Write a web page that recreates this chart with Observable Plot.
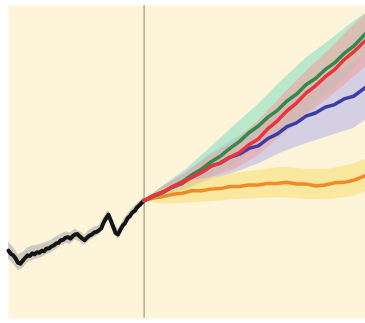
<!DOCTYPE html>
<html>
<head>
<meta charset="utf-8">
<script src="https://cdn.jsdelivr.net/npm/d3@7"></script>
<script src="https://cdn.jsdelivr.net/npm/@observablehq/plot@0.6"></script>
<style>
  html, body { margin: 0; padding: 0; background: #ffffff; }
  #chart svg { display: block; filter: blur(0.5px); }
</style>
</head>
<body>
<div id="chart"></div>
<script>
// Historical series (annual line)
const histYears = [1950,1951,1952,1953,1954,1955,1956,1957,1958,1959,1960,1961,1962,1963,1964,1965,1966,1967,1968,1969,1970,1971,1972,1973,1974,1975,1976,1977,1978,1979,1980,1981,1982,1983,1984,1985,1986,1987,1988,1989,1990,1991,1992,1993,1994,1995,1996,1997,1998,1999,2000,2001,2002,2003,2004,2005,2006,2007];
const histValues = [-0.70,-0.76,-0.79,-0.85,-0.93,-0.95,-0.89,-0.84,-0.79,-0.80,-0.75,-0.77,-0.73,-0.74,-0.70,-0.71,-0.66,-0.66,-0.62,-0.60,-0.56,-0.55,-0.50,-0.49,-0.45,-0.44,-0.47,-0.42,-0.39,-0.38,-0.43,-0.47,-0.50,-0.45,-0.41,-0.39,-0.35,-0.34,-0.31,-0.27,-0.16,-0.08,-0.01,-0.12,-0.24,-0.36,-0.39,-0.30,-0.22,-0.17,-0.08,-0.04,0.03,0.06,0.13,0.17,0.22,0.26];
// Historical spread band (every two years)
const histBandYears = [1950,1952,1954,1956,1958,1960,1962,1964,1966,1968,1970,1972,1974,1976,1978,1980,1982,1984,1986,1988,1990,1992,1994,1996,1998,2000,2002,2004,2006,2007];
const histBandCenter = [-0.70,-0.79,-0.93,-0.89,-0.79,-0.75,-0.73,-0.70,-0.66,-0.62,-0.56,-0.50,-0.45,-0.47,-0.39,-0.43,-0.50,-0.41,-0.35,-0.31,-0.16,-0.01,-0.24,-0.39,-0.22,-0.08,0.03,0.13,0.22,0.26];
const histSpread = [0.16,0.16,0.15,0.15,0.14,0.14,0.13,0.13,0.12,0.12,0.12,0.11,0.11,0.11,0.10,0.10,0.10,0.10,0.10,0.09,0.09,0.09,0.09,0.09,0.08,0.08,0.08,0.07,0.06,0.05];

// Projection lines (every four years)
const scenarios = ["green","red","blue","orange"];
const projYears = [2007,2011,2015,2019,2023,2027,2031,2035,2039,2043,2047,2051,2055,2059,2063,2067,2071,2075,2079,2083,2087,2091,2095,2100];
const greenValues  = [0.26,0.35,0.42,0.53,0.62,0.75,0.86,1.00,1.11,1.26,1.39,1.56,1.69,1.86,1.99,2.17,2.30,2.48,2.60,2.77,2.90,3.08,3.22,3.46];
const redValues    = [0.26,0.36,0.43,0.53,0.60,0.71,0.80,0.92,0.98,1.09,1.18,1.33,1.44,1.64,1.79,1.98,2.13,2.32,2.46,2.63,2.77,2.96,3.11,3.33];
const blueValues   = [0.26,0.35,0.42,0.52,0.59,0.71,0.80,0.92,0.98,1.09,1.15,1.26,1.31,1.45,1.54,1.68,1.75,1.88,1.94,2.05,2.10,2.21,2.26,2.43];
const orangeValues = [0.26,0.31,0.34,0.38,0.40,0.45,0.45,0.48,0.49,0.53,0.53,0.56,0.56,0.59,0.59,0.61,0.58,0.58,0.54,0.56,0.60,0.61,0.65,0.74];

// Projection spread bands (decadal)
const bandYears = [2007,2015,2025,2035,2045,2055,2065,2075,2085,2095,2100];
const greenCenter  = [0.26,0.42,0.68,0.99,1.32,1.70,2.08,2.47,2.83,3.23,3.46];
const redCenter    = [0.26,0.43,0.65,0.91,1.12,1.45,1.89,2.31,2.70,3.12,3.33];
const blueCenter   = [0.26,0.42,0.65,0.91,1.12,1.32,1.62,1.87,2.08,2.27,2.43];
const orangeCenter = [0.26,0.34,0.42,0.47,0.53,0.57,0.61,0.57,0.57,0.65,0.74];
const greenSpread  = [0,0.12,0.19,0.29,0.38,0.40,0.48,0.52,0.50,0.46,0.38];
const redSpread    = [0,0.10,0.15,0.21,0.27,0.33,0.38,0.42,0.46,0.50,0.50];
const blueSpread   = [0,0.10,0.17,0.25,0.33,0.36,0.44,0.52,0.58,0.63,0.63];
const orangeSpread = [0,0.15,0.21,0.23,0.25,0.27,0.29,0.29,0.29,0.31,0.31];
const boundaryYear = [2007];

const lineColors = {green:"#2f8a4c", red:"#e8343c", blue:"#3a3ea8", orange:"#f08a26"};
const bandColors = {green:"#8ee0c2", red:"#eea4a4", blue:"#b9b5ea", orange:"#f7df77"};

const valuesBy = {green:greenValues, red:redValues, blue:blueValues, orange:orangeValues};
const centerBy = {green:greenCenter, red:redCenter, blue:blueCenter, orange:orangeCenter};
const spreadBy = {green:greenSpread, red:redSpread, blue:blueSpread, orange:orangeSpread};

const hist = histYears.map((year, i) => ({year, v: histValues[i]}));
const histBand = histBandYears.map((year, i) => ({year, lo: histBandCenter[i]-histSpread[i], hi: histBandCenter[i]+histSpread[i]}));
const projLines = scenarios.flatMap(s => projYears.map((year, i) => ({s, year, v: valuesBy[s][i]})));
const projBands = scenarios.flatMap(s => bandYears.map((year, i) => ({
  s, year, lo: centerBy[s][i]-spreadBy[s][i], hi: centerBy[s][i]+spreadBy[s][i]
})));

const bandOrder = ["blue","green","red","orange"];
const lineOrder = ["orange","blue","green","red"];

const marks = [
  Plot.frame({fill:"#fdf4d9", stroke:null}),
  Plot.ruleX(boundaryYear, {stroke:"#b3aa94", strokeWidth:1.5}),
  Plot.areaY(histBand, {x:"year", y1:"lo", y2:"hi", fill:"#8a8a9a", fillOpacity:0.4})
];
for (const s of bandOrder) {
  marks.push(Plot.areaY(projBands.filter(d => d.s === s), {x:"year", y1:"lo", y2:"hi", fill:bandColors[s], fillOpacity:0.6}));
}
marks.push(Plot.lineY(hist, {x:"year", y:"v", stroke:"#151515", strokeWidth:4, strokeLinejoin:"round"}));
for (const s of lineOrder) {
  marks.push(Plot.lineY(projLines.filter(d => d.s === s), {x:"year", y:"v", stroke:lineColors[s], strokeWidth:3.5, strokeLinejoin:"round"}));
}

const chart = Plot.plot({
  width: 365,
  height: 323,
  marginLeft: 8,
  marginRight: 0,
  marginTop: 5,
  marginBottom: 5,
  style: {background: "#ffffff"},
  x: {domain: [1950, 2100], axis: null},
  y: {domain: [-2, 4], axis: null},
  marks
});
document.getElementById("chart").appendChild(chart);
</script>
</body>
</html>
